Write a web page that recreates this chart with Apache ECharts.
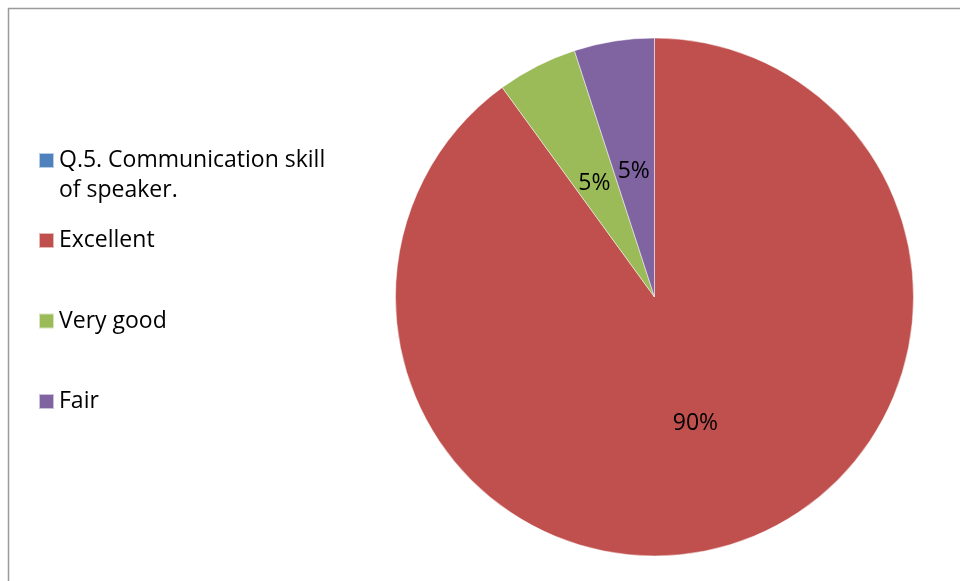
<!DOCTYPE html>
<html>
<head>
<meta charset="utf-8">
<script src="https://cdn.jsdelivr.net/npm/echarts@6/dist/echarts.min.js"></script>
<style>
  html, body { margin: 0; padding: 0; background: #fff; }
  #chart { width: 960px; height: 581px; }
</style>
</head>
<body>
<div id="chart"></div>
<script>
const categories = ['Q.5. Communication skill of speaker.', 'Excellent', 'Very good', 'Fair'];
const values = [0, 90, 5, 5];
const colors = ['#4F81BD', '#C0504D', '#9BBB59', '#8064A2'];

const FONT = '"Open Sans", sans-serif';
const chart = echarts.init(document.getElementById('chart'), null, { renderer: 'canvas' });

const data = categories.map((name, i) => {
  const item = {
    name: name,
    value: values[i],
    itemStyle: { color: colors[i] },
    label: { show: values[i] > 0 }
  };
  if (values[i] > 0 && values[i] < 10) item.label.offset = [0, 5];
  return item;
});

chart.setOption({
  backgroundColor: '#ffffff',
  animation: false,
  graphic: [{
    type: 'rect',
    shape: { x: 8.5, y: 8.5, width: 1000, height: 1000 },
    style: { fill: 'none', stroke: '#9a9a9a', lineWidth: 1.5 },
    silent: true
  }],
  legend: [{
    orient: 'vertical',
    left: 38,
    top: 115.5,
    padding: 0,
    itemWidth: 15,
    itemHeight: 15,
    itemGap: 0,
    selectedMode: false,
    icon: 'rect',
    formatter: function () { return ' \nQ.5. Communication skill\nof speaker.'; },
    textStyle: { fontFamily: FONT, fontSize: 23, color: '#000', lineHeight: 30 },
    data: [categories[0]]
  }, {
    orient: 'vertical',
    left: 38,
    top: 225.5,
    padding: 0,
    itemWidth: 15,
    itemHeight: 15,
    itemGap: 50.5,
    selectedMode: false,
    icon: 'rect',
    textStyle: { fontFamily: FONT, fontSize: 23, color: '#000', lineHeight: 30 },
    data: categories.slice(1)
  }],
  series: [{
    type: 'pie',
    center: [654.5, 297],
    radius: [0, 259],
    startAngle: 90,
    clockwise: true,
    avoidLabelOverlap: false,
    stillShowZeroSum: true,
    label: {
      show: true,
      position: 'inside',
      formatter: '{d}%',
      fontFamily: FONT,
      fontSize: 23,
      color: '#000'
    },
    labelLine: { show: false },
    itemStyle: { borderColor: 'rgba(255,255,255,0.6)', borderWidth: 0.8 },
    emphasis: { disabled: true },
    data: data
  }]
});
</script>
</body>
</html>
